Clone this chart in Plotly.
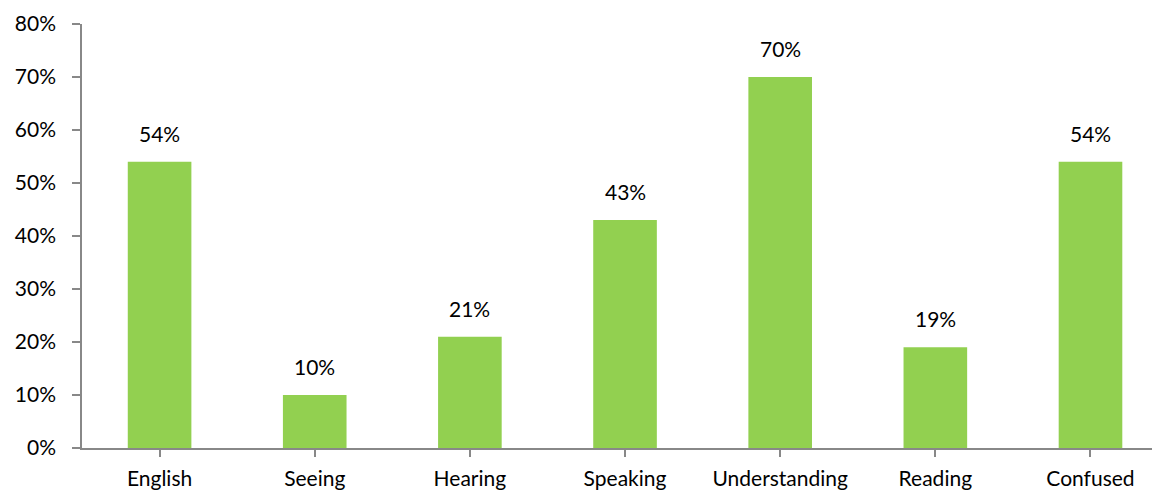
import plotly.graph_objects as go

categories = ["English", "Seeing", "Hearing", "Speaking", "Understanding", "Reading", "Confused"]
values = [54, 10, 21, 43, 70, 19, 54]
labels = ["54%", "10%", "21%", "43%", "70%", "19%", "54%"]
ytick_vals = [0, 10, 20, 30, 40, 50, 60, 70, 80]
ytick_text = ["0%", "10%", "20%", "30%", "40%", "50%", "60%", "70%", "80%"]

FONT = "Lato, Open Sans, sans-serif"
AXIS = "#888888"

fig = go.Figure()
fig.add_trace(go.Bar(
    x=list(range(len(categories))), y=values,
    marker=dict(color="#92D050", line=dict(width=0)),
    hoverinfo="skip",
))
for i, (v, t) in enumerate(zip(values, labels)):
    fig.add_annotation(x=i, y=v, text=t, showarrow=False, yanchor="bottom",
                       yshift=14, font=dict(family=FONT, size=21, color="#000000"))

fig.update_layout(
    width=1152, height=482,
    margin=dict(l=74, r=0, t=16, b=42),
    paper_bgcolor="white", plot_bgcolor="white",
    bargap=0.59, showlegend=False,
    font=dict(family=FONT, color="#000000"),
)
fig.update_xaxes(
    range=[-0.5, 6.448],
    tickmode="array", tickvals=list(range(len(categories))), ticktext=categories,
    tickson="boundaries", ticks="outside", ticklen=7, tickcolor=AXIS, tickwidth=1.5,
    showline=True, linecolor=AXIS, linewidth=1.5,
    showgrid=False, zeroline=False,
    ticklabelstandoff=4,
    tickfont=dict(family=FONT, size=21, color="#000000"),
)
fig.update_yaxes(
    range=[0, 80],
    tickmode="array", tickvals=ytick_vals, ticktext=ytick_text,
    ticks="outside", ticklen=8, tickcolor=AXIS, tickwidth=1.5,
    showline=True, linecolor=AXIS, linewidth=1.5,
    showgrid=False, zeroline=False,
    ticklabelstandoff=12,
    tickfont=dict(family=FONT, size=21, color="#000000"),
)
fig.write_html("out.html")
